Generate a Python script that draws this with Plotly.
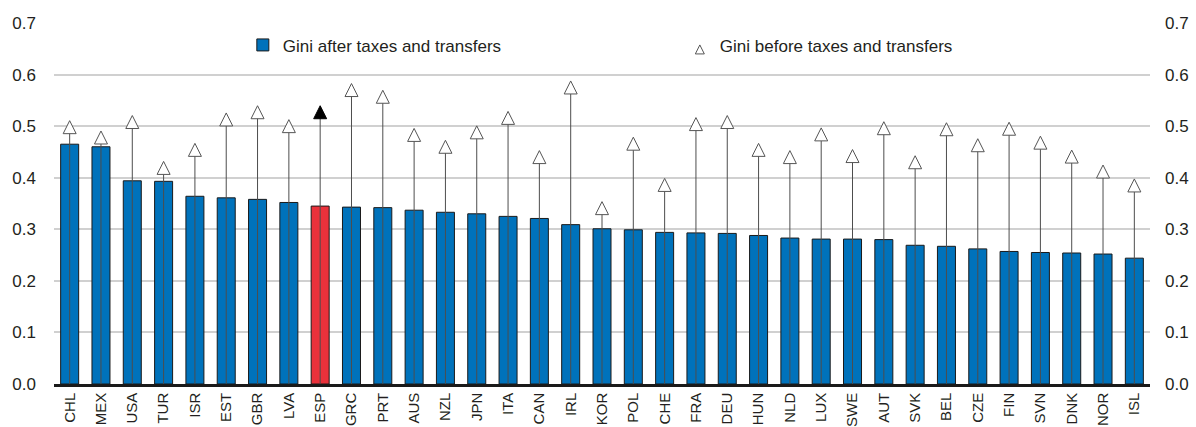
import plotly.graph_objects as go

countries = ["CHL", "MEX", "USA", "TUR", "ISR", "EST", "GBR", "LVA", "ESP", "GRC",
             "PRT", "AUS", "NZL", "JPN", "ITA", "CAN", "IRL", "KOR", "POL", "CHE",
             "FRA", "DEU", "HUN", "NLD", "LUX", "SWE", "AUT", "SVK", "BEL", "CZE",
             "FIN", "SVN", "DNK", "NOR", "ISL"]

gini_after = [0.465, 0.460, 0.394, 0.393, 0.364, 0.361, 0.358, 0.352, 0.345, 0.343,
              0.342, 0.337, 0.333, 0.330, 0.325, 0.321, 0.309, 0.301, 0.299, 0.294,
              0.293, 0.292, 0.288, 0.283, 0.281, 0.281, 0.280, 0.269, 0.267, 0.262,
              0.257, 0.255, 0.254, 0.252, 0.244]

gini_before = [0.498, 0.478, 0.508, 0.419, 0.454, 0.513, 0.527, 0.500, 0.527, 0.570,
               0.557, 0.483, 0.460, 0.488, 0.516, 0.440, 0.575, 0.341, 0.466, 0.386,
               0.504, 0.508, 0.454, 0.440, 0.484, 0.442, 0.496, 0.430, 0.494, 0.463,
               0.495, 0.468, 0.441, 0.412, 0.385]

highlight = "ESP"
tick_vals = [0.0, 0.1, 0.2, 0.3, 0.4, 0.5, 0.6, 0.7]

BLUE = "#0072BB"
RED = "#EA313B"
TXT = "#231F20"
SANS = "Liberation Sans, Arial, sans-serif"

bar_colors = [RED if c == highlight else BLUE for c in countries]
tri_fill = ["#000000" if c == highlight else "#FFFFFF" for c in countries]
tri_line = ["#000000" if c == highlight else "#555555" for c in countries]

fig = go.Figure()

fig.add_trace(go.Bar(
    x=countries, y=gini_after,
    name="Gini after taxes and transfers",
    marker=dict(color=bar_colors, line=dict(color="#1A1A1A", width=1)),
    width=0.575,
))

# Gini before: stem + triangle (triangle centred on the value)
fig.add_trace(go.Scatter(
    x=countries, y=gini_before,
    name="Gini before taxes and transfers",
    mode="markers", showlegend=False, yaxis="y2",
    marker=dict(symbol="arrow-down", angle=180, standoff=6.5, size=13,
                color=tri_fill, line=dict(color=tri_line, width=1)),
    error_y=dict(type="data", symmetric=False,
                 array=[0] * len(countries), arrayminus=gini_before,
                 width=0, thickness=1, color="#4D4D4D"),
))

# legend entry for the triangles
fig.add_trace(go.Scatter(
    x=[None], y=[None],
    name="Gini before taxes and transfers",
    mode="markers", yaxis="y2",
    marker=dict(symbol="arrow-up", size=9, color="#FFFFFF",
                line=dict(color="#555555", width=1)),
))

fig.update_layout(
    width=1196, height=427,
    margin=dict(l=54, r=46, t=23, b=43),
    paper_bgcolor="white", plot_bgcolor="white",
    showlegend=True,
    legend=dict(orientation="h", x=0.1723, xanchor="left", y=0.938, yanchor="middle",
                bgcolor="rgba(0,0,0,0)", entrywidth=392,
                font=dict(family=SANS, size=17, color=TXT)),
    xaxis=dict(type="category", showgrid=False, ticks="", tickangle=-90,
               range=[-0.5, len(countries) - 0.5],
               showline=True, linecolor="#1A1A1A", linewidth=2.5,
               tickfont=dict(family=SANS, size=15, color=TXT),
               ticklabelstandoff=0, automargin=False),
    yaxis=dict(range=[0, 0.7], tickvals=tick_vals, tickformat=".1f",
               showgrid=True, gridcolor="#D0D0D0", gridwidth=2,
               zeroline=False, ticks="", automargin=False,
               tickfont=dict(family=SANS, size=17, color=TXT),
               ticklabelstandoff=17),
    yaxis2=dict(range=[0, 0.7], tickvals=tick_vals, tickformat=".1f",
                overlaying="y", side="right", showgrid=False, zeroline=False,
                ticks="", showline=False, automargin=False,
                tickfont=dict(family=SANS, size=17, color=TXT),
                ticklabelstandoff=14),
)

fig.write_html("out.html",
               config={"displayModeBar": False},
               post_script="document.body.style.margin='0px';document.body.style.padding='0px';")
